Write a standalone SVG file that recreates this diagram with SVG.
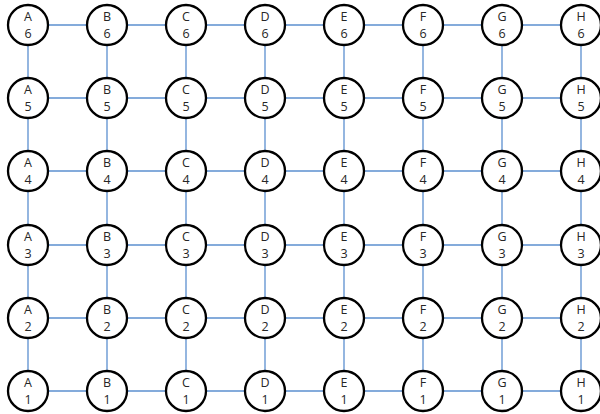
<svg xmlns="http://www.w3.org/2000/svg" width="600" height="414" viewBox="0 0 600 414">
<style>
.e{stroke:#5b8fcf;stroke-width:1.3;fill:none}
.n circle{fill:#fff;stroke:#000;stroke-width:2.3}
.n text{font-family:"Open Sans","Liberation Sans",sans-serif;font-size:12.5px;fill:#262626;text-anchor:middle}
</style>
<rect width="600" height="414" fill="#fff"/>
<g id="connectors" class="e">
<line x1="28" y1="25" x2="107" y2="25"/><line x1="107" y1="25" x2="186" y2="25"/><line x1="186" y1="25" x2="265" y2="25"/><line x1="265" y1="25" x2="344" y2="25"/><line x1="344" y1="25" x2="423" y2="25"/><line x1="423" y1="25" x2="502" y2="25"/><line x1="502" y1="25" x2="581" y2="25"/>
<line x1="28" y1="98" x2="107" y2="98"/><line x1="107" y1="98" x2="186" y2="98"/><line x1="186" y1="98" x2="265" y2="98"/><line x1="265" y1="98" x2="344" y2="98"/><line x1="344" y1="98" x2="423" y2="98"/><line x1="423" y1="98" x2="502" y2="98"/><line x1="502" y1="98" x2="581" y2="98"/>
<line x1="28" y1="171" x2="107" y2="171"/><line x1="107" y1="171" x2="186" y2="171"/><line x1="186" y1="171" x2="265" y2="171"/><line x1="265" y1="171" x2="344" y2="171"/><line x1="344" y1="171" x2="423" y2="171"/><line x1="423" y1="171" x2="502" y2="171"/><line x1="502" y1="171" x2="581" y2="171"/>
<line x1="28" y1="245" x2="107" y2="245"/><line x1="107" y1="245" x2="186" y2="245"/><line x1="186" y1="245" x2="265" y2="245"/><line x1="265" y1="245" x2="344" y2="245"/><line x1="344" y1="245" x2="423" y2="245"/><line x1="423" y1="245" x2="502" y2="245"/><line x1="502" y1="245" x2="581" y2="245"/>
<line x1="28" y1="318" x2="107" y2="318"/><line x1="107" y1="318" x2="186" y2="318"/><line x1="186" y1="318" x2="265" y2="318"/><line x1="265" y1="318" x2="344" y2="318"/><line x1="344" y1="318" x2="423" y2="318"/><line x1="423" y1="318" x2="502" y2="318"/><line x1="502" y1="318" x2="581" y2="318"/>
<line x1="28" y1="391" x2="107" y2="391"/><line x1="107" y1="391" x2="186" y2="391"/><line x1="186" y1="391" x2="265" y2="391"/><line x1="265" y1="391" x2="344" y2="391"/><line x1="344" y1="391" x2="423" y2="391"/><line x1="423" y1="391" x2="502" y2="391"/><line x1="502" y1="391" x2="581" y2="391"/>
<line x1="28" y1="25" x2="28" y2="98"/><line x1="28" y1="98" x2="28" y2="171"/><line x1="28" y1="171" x2="28" y2="245"/><line x1="28" y1="245" x2="28" y2="318"/><line x1="28" y1="318" x2="28" y2="391"/>
<line x1="107" y1="25" x2="107" y2="98"/><line x1="107" y1="98" x2="107" y2="171"/><line x1="107" y1="171" x2="107" y2="245"/><line x1="107" y1="245" x2="107" y2="318"/><line x1="107" y1="318" x2="107" y2="391"/>
<line x1="186" y1="25" x2="186" y2="98"/><line x1="186" y1="98" x2="186" y2="171"/><line x1="186" y1="171" x2="186" y2="245"/><line x1="186" y1="245" x2="186" y2="318"/><line x1="186" y1="318" x2="186" y2="391"/>
<line x1="265" y1="25" x2="265" y2="98"/><line x1="265" y1="98" x2="265" y2="171"/><line x1="265" y1="171" x2="265" y2="245"/><line x1="265" y1="245" x2="265" y2="318"/><line x1="265" y1="318" x2="265" y2="391"/>
<line x1="344" y1="25" x2="344" y2="98"/><line x1="344" y1="98" x2="344" y2="171"/><line x1="344" y1="171" x2="344" y2="245"/><line x1="344" y1="245" x2="344" y2="318"/><line x1="344" y1="318" x2="344" y2="391"/>
<line x1="423" y1="25" x2="423" y2="98"/><line x1="423" y1="98" x2="423" y2="171"/><line x1="423" y1="171" x2="423" y2="245"/><line x1="423" y1="245" x2="423" y2="318"/><line x1="423" y1="318" x2="423" y2="391"/>
<line x1="502" y1="25" x2="502" y2="98"/><line x1="502" y1="98" x2="502" y2="171"/><line x1="502" y1="171" x2="502" y2="245"/><line x1="502" y1="245" x2="502" y2="318"/><line x1="502" y1="318" x2="502" y2="391"/>
<line x1="581" y1="25" x2="581" y2="98"/><line x1="581" y1="98" x2="581" y2="171"/><line x1="581" y1="171" x2="581" y2="245"/><line x1="581" y1="245" x2="581" y2="318"/><line x1="581" y1="318" x2="581" y2="391"/>
</g>
<g id="A6" class="n"><circle cx="28" cy="25" r="20"/><text x="28" y="21">A</text><text x="28" y="38">6</text></g>
<g id="B6" class="n"><circle cx="107" cy="25" r="20"/><text x="107" y="21">B</text><text x="107" y="38">6</text></g>
<g id="C6" class="n"><circle cx="186" cy="25" r="20"/><text x="186" y="21">C</text><text x="186" y="38">6</text></g>
<g id="D6" class="n"><circle cx="265" cy="25" r="20"/><text x="265" y="21">D</text><text x="265" y="38">6</text></g>
<g id="E6" class="n"><circle cx="344" cy="25" r="20"/><text x="344" y="21">E</text><text x="344" y="38">6</text></g>
<g id="F6" class="n"><circle cx="423" cy="25" r="20"/><text x="423" y="21">F</text><text x="423" y="38">6</text></g>
<g id="G6" class="n"><circle cx="502" cy="25" r="20"/><text x="502" y="21">G</text><text x="502" y="38">6</text></g>
<g id="H6" class="n"><circle cx="581" cy="25" r="20"/><text x="581" y="21">H</text><text x="581" y="38">6</text></g>
<g id="A5" class="n"><circle cx="28" cy="98" r="20"/><text x="28" y="94">A</text><text x="28" y="111">5</text></g>
<g id="B5" class="n"><circle cx="107" cy="98" r="20"/><text x="107" y="94">B</text><text x="107" y="111">5</text></g>
<g id="C5" class="n"><circle cx="186" cy="98" r="20"/><text x="186" y="94">C</text><text x="186" y="111">5</text></g>
<g id="D5" class="n"><circle cx="265" cy="98" r="20"/><text x="265" y="94">D</text><text x="265" y="111">5</text></g>
<g id="E5" class="n"><circle cx="344" cy="98" r="20"/><text x="344" y="94">E</text><text x="344" y="111">5</text></g>
<g id="F5" class="n"><circle cx="423" cy="98" r="20"/><text x="423" y="94">F</text><text x="423" y="111">5</text></g>
<g id="G5" class="n"><circle cx="502" cy="98" r="20"/><text x="502" y="94">G</text><text x="502" y="111">5</text></g>
<g id="H5" class="n"><circle cx="581" cy="98" r="20"/><text x="581" y="94">H</text><text x="581" y="111">5</text></g>
<g id="A4" class="n"><circle cx="28" cy="171" r="20"/><text x="28" y="167">A</text><text x="28" y="184">4</text></g>
<g id="B4" class="n"><circle cx="107" cy="171" r="20"/><text x="107" y="167">B</text><text x="107" y="184">4</text></g>
<g id="C4" class="n"><circle cx="186" cy="171" r="20"/><text x="186" y="167">C</text><text x="186" y="184">4</text></g>
<g id="D4" class="n"><circle cx="265" cy="171" r="20"/><text x="265" y="167">D</text><text x="265" y="184">4</text></g>
<g id="E4" class="n"><circle cx="344" cy="171" r="20"/><text x="344" y="167">E</text><text x="344" y="184">4</text></g>
<g id="F4" class="n"><circle cx="423" cy="171" r="20"/><text x="423" y="167">F</text><text x="423" y="184">4</text></g>
<g id="G4" class="n"><circle cx="502" cy="171" r="20"/><text x="502" y="167">G</text><text x="502" y="184">4</text></g>
<g id="H4" class="n"><circle cx="581" cy="171" r="20"/><text x="581" y="167">H</text><text x="581" y="184">4</text></g>
<g id="A3" class="n"><circle cx="28" cy="245" r="20"/><text x="28" y="241">A</text><text x="28" y="258">3</text></g>
<g id="B3" class="n"><circle cx="107" cy="245" r="20"/><text x="107" y="241">B</text><text x="107" y="258">3</text></g>
<g id="C3" class="n"><circle cx="186" cy="245" r="20"/><text x="186" y="241">C</text><text x="186" y="258">3</text></g>
<g id="D3" class="n"><circle cx="265" cy="245" r="20"/><text x="265" y="241">D</text><text x="265" y="258">3</text></g>
<g id="E3" class="n"><circle cx="344" cy="245" r="20"/><text x="344" y="241">E</text><text x="344" y="258">3</text></g>
<g id="F3" class="n"><circle cx="423" cy="245" r="20"/><text x="423" y="241">F</text><text x="423" y="258">3</text></g>
<g id="G3" class="n"><circle cx="502" cy="245" r="20"/><text x="502" y="241">G</text><text x="502" y="258">3</text></g>
<g id="H3" class="n"><circle cx="581" cy="245" r="20"/><text x="581" y="241">H</text><text x="581" y="258">3</text></g>
<g id="A2" class="n"><circle cx="28" cy="318" r="20"/><text x="28" y="314">A</text><text x="28" y="331">2</text></g>
<g id="B2" class="n"><circle cx="107" cy="318" r="20"/><text x="107" y="314">B</text><text x="107" y="331">2</text></g>
<g id="C2" class="n"><circle cx="186" cy="318" r="20"/><text x="186" y="314">C</text><text x="186" y="331">2</text></g>
<g id="D2" class="n"><circle cx="265" cy="318" r="20"/><text x="265" y="314">D</text><text x="265" y="331">2</text></g>
<g id="E2" class="n"><circle cx="344" cy="318" r="20"/><text x="344" y="314">E</text><text x="344" y="331">2</text></g>
<g id="F2" class="n"><circle cx="423" cy="318" r="20"/><text x="423" y="314">F</text><text x="423" y="331">2</text></g>
<g id="G2" class="n"><circle cx="502" cy="318" r="20"/><text x="502" y="314">G</text><text x="502" y="331">2</text></g>
<g id="H2" class="n"><circle cx="581" cy="318" r="20"/><text x="581" y="314">H</text><text x="581" y="331">2</text></g>
<g id="A1" class="n"><circle cx="28" cy="391" r="20"/><text x="28" y="387">A</text><text x="28" y="404">1</text></g>
<g id="B1" class="n"><circle cx="107" cy="391" r="20"/><text x="107" y="387">B</text><text x="107" y="404">1</text></g>
<g id="C1" class="n"><circle cx="186" cy="391" r="20"/><text x="186" y="387">C</text><text x="186" y="404">1</text></g>
<g id="D1" class="n"><circle cx="265" cy="391" r="20"/><text x="265" y="387">D</text><text x="265" y="404">1</text></g>
<g id="E1" class="n"><circle cx="344" cy="391" r="20"/><text x="344" y="387">E</text><text x="344" y="404">1</text></g>
<g id="F1" class="n"><circle cx="423" cy="391" r="20"/><text x="423" y="387">F</text><text x="423" y="404">1</text></g>
<g id="G1" class="n"><circle cx="502" cy="391" r="20"/><text x="502" y="387">G</text><text x="502" y="404">1</text></g>
<g id="H1" class="n"><circle cx="581" cy="391" r="20"/><text x="581" y="387">H</text><text x="581" y="404">1</text></g>
</svg>
